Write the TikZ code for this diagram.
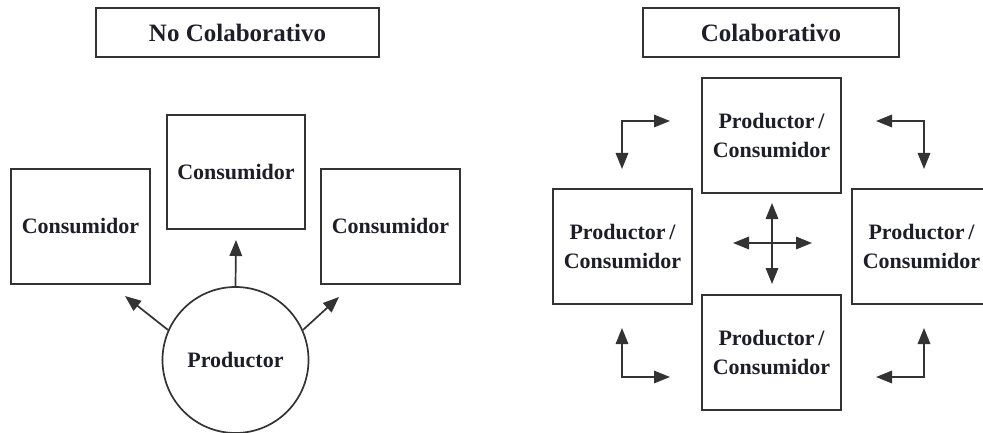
\documentclass[tikz,border=0pt]{standalone}
\usepackage{fontspec}
\setmainfont{Liberation Serif}
\usetikzlibrary{arrows.meta}
\definecolor{linec}{HTML}{333333}
\definecolor{txtc}{HTML}{1E1E28}
\tikzset{
  box/.style={draw=linec, line width=1.7pt, fill=white, minimum width=139pt, minimum height=115pt, inner sep=0pt, align=center, font=\bfseries\fontsize{22}{29}\selectfont, text=txtc},
  titlebox/.style={draw=linec, line width=1.7pt, minimum height=49pt, inner sep=0pt, font=\bfseries\fontsize{25}{28}\selectfont, text=txtc},
  prod/.style={circle, draw=linec, line width=1.7pt, minimum size=146pt, inner sep=0pt, font=\bfseries\fontsize{22}{26}\selectfont, text=txtc},
  tip/.tip={Triangle[length=16pt,width=12.5pt]},
  arr/.style={draw=linec, line width=1.7pt, -tip},
  darr/.style={draw=linec, line width=1.7pt, tip-tip}
}
\begin{document}
\begin{tikzpicture}[x=1pt,y=-1pt]
\useasboundingbox (0,0) rectangle (983,433);
% Left panel
\node[titlebox, minimum width=283pt] (t1) at (237.5,32.5) {No Colaborativo};
\node[box] (cl) at (80.5,226.5) {Consumidor};
\node[box, minimum width=138pt, minimum height=114pt] (cm) at (236,172) {Consumidor};
\node[box] (cr) at (390.5,226.5) {Consumidor};
\node[prod] (p) at (235.5,360) {Productor};
\coordinate (tipm) at (236,240);
\coordinate (tipl) at (125,296);
\coordinate (tipr) at (339,297);
\draw[arr] (p.north) -- (tipm);
\draw[arr] (p.156) -- (tipl);
\draw[arr] (p.24) -- (tipr);
% Right panel
\node[titlebox, minimum width=256pt] (t2) at (771,32.5) {Colaborativo};
\node[box] (pt) at (771.5,135.5) {Productor\,/\\Consumidor};
\node[box] (pl) at (622.5,246.5) {Productor\,/\\Consumidor};
\node[box] (pr) at (921.5,246.5) {Productor\,/\\Consumidor};
\node[box] (pb) at (771.5,352.5) {Productor\,/\\Consumidor};
% central cross
\coordinate (cN) at (772,203);
\coordinate (cS) at (772,284);
\coordinate (cW) at (733,243);
\coordinate (cE) at (812,243);
\draw[darr] (cN) -- (cS);
\draw[darr] (cW) -- (cE);
% elbows
\coordinate (a1) at (670,121); \coordinate (b1) at (622,169);
\coordinate (a2) at (876,121); \coordinate (b2) at (924,169);
\coordinate (a3) at (622,328); \coordinate (b3) at (670,377);
\coordinate (a4) at (924,328); \coordinate (b4) at (876,377);
\draw[darr] (a1) -| (b1);
\draw[darr] (a2) -| (b2);
\draw[darr] (a3) |- (b3);
\draw[darr] (a4) |- (b4);
\end{tikzpicture}
\end{document}
